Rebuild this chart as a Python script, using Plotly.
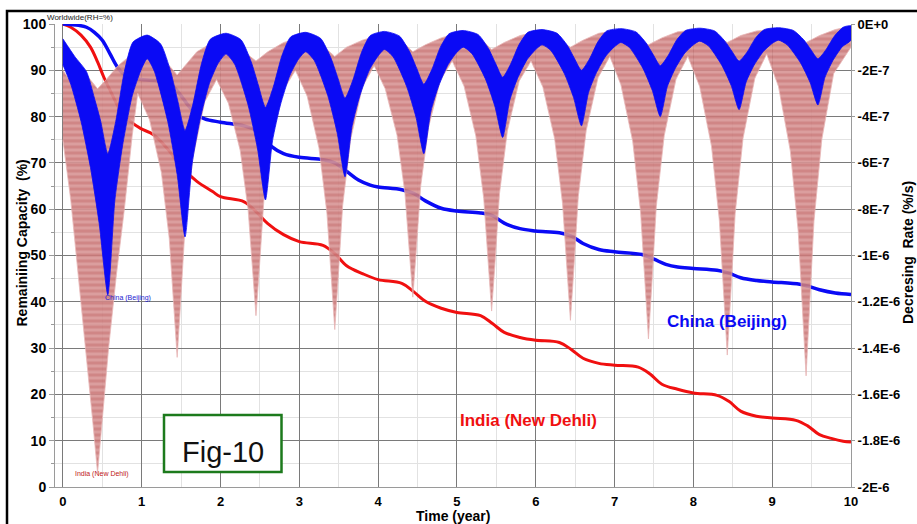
import plotly.graph_objects as go

# ---------------- data ----------------
x_ticks = list(range(0, 11))
cap_ticks = list(range(0, 101, 10))
rate_tickvals = [0, -2e-7, -4e-7, -6e-7, -8e-7, -1e-6, -1.2e-6, -1.4e-6, -1.6e-6, -1.8e-6, -2e-6]
rate_ticktext = ["0E+0", "-2E-7", "-4E-7", "-6E-7", "-8E-7", "-1E-6", "-1.2E-6", "-1.4E-6", "-1.6E-6", "-1.8E-6", "-2E-6"]

# remaining capacity (%) vs time (year)
china_t = [0, 0.2, 0.3, 0.4, 0.5, 0.6, 0.7, 0.8, 0.9, 1.0, 1.3, 1.4, 1.5, 1.6, 1.7, 1.8, 2.0, 2.3,
           2.45, 2.55, 2.65, 2.8, 3.0, 3.3, 3.45, 3.6, 3.75, 3.9, 4.0, 4.3, 4.45, 4.6, 4.8, 5.0, 5.3,
           5.45, 5.6, 5.8, 6.0, 6.3, 6.45, 6.6, 6.8, 7.0, 7.35, 7.5, 7.65, 7.8, 8.0, 8.3, 8.45, 8.6,
           8.8, 9.0, 9.35, 9.45, 9.6, 9.8, 10.0]
china_cap = [100, 99.7, 99.3, 98.2, 96.5, 93.5, 90.5, 88.8, 88.3, 88.0, 87.5, 86.5, 84.5, 82.2, 80.5, 79.5, 78.8, 78.0,
             77.0, 75.5, 73.5, 72.0, 71.2, 70.7, 70.0, 68.2, 66.3, 65.2, 64.8, 64.2, 63.4, 61.8, 60.2, 59.6, 59.2,
             58.6, 57.0, 55.8, 55.3, 54.9, 54.2, 52.6, 51.3, 50.8, 50.2, 49.2, 48.1, 47.5, 47.2, 46.8, 46.2, 45.2,
             44.6, 44.3, 43.8, 43.4, 42.6, 41.9, 41.6]

india_t = [0, 0.1, 0.23, 0.35, 0.44, 0.52, 0.61, 0.74, 0.86, 0.99, 1.15, 1.33, 1.5, 1.7, 1.9, 2.0, 2.3,
           2.45, 2.6, 2.8, 3.0, 3.3, 3.45, 3.6, 3.8, 4.0, 4.3, 4.45, 4.6, 4.8, 5.0, 5.3, 5.45, 5.6, 5.8,
           6.0, 6.3, 6.45, 6.6, 6.8, 7.0, 7.3, 7.45, 7.6, 7.8, 8.0, 8.3, 8.45, 8.6, 8.8, 9.0, 9.3, 9.45,
           9.6, 9.75, 9.9, 10.0]
india_cap = [100, 99.3, 97.6, 95, 91.8, 88.5, 85.3, 81, 78.9, 77.4, 76.1, 73, 69.2, 66, 63.8, 62.7, 61.6,
             59.5, 56.9, 54.5, 53, 52.2, 50.4, 47.8, 46.1, 44.8, 44, 42.2, 40.1, 38.6, 37.7, 37, 35.3, 33.4, 32.3,
             31.7, 31.2, 29.7, 27.8, 26.7, 26.3, 25.9, 24.4, 22.2, 21.1, 20.3, 19.8, 18.5, 16.4, 15.3, 14.9, 14.4, 13.2,
             11.3, 10.5, 9.9, 9.7]

# daily decreasing-rate envelopes, in units of 1e-8 %/s
RATE_UNIT = 1e-8

china_hi_t = [0.00, 0.15, 0.30, 0.40, 0.48, 0.57, 0.67, 0.78, 0.89, 1.07,
              1.24, 1.37, 1.46, 1.55, 1.65, 1.76, 1.87, 2.07,
              2.26, 2.39, 2.48, 2.57, 2.67, 2.78, 2.89, 3.08,
              3.27, 3.40, 3.49, 3.58, 3.68, 3.79, 3.90, 4.08,
              4.27, 4.40, 4.49, 4.58, 4.68, 4.79, 4.90, 5.08,
              5.27, 5.40, 5.49, 5.58, 5.68, 5.79, 5.90, 6.08,
              6.27, 6.40, 6.49, 6.58, 6.68, 6.79, 6.90, 7.08,
              7.27, 7.40, 7.49, 7.58, 7.68, 7.79, 7.90, 8.08,
              8.27, 8.40, 8.49, 8.58, 8.68, 8.79, 8.90, 9.08,
              9.27, 9.40, 9.49, 9.58, 9.68, 9.79, 9.90, 10.0]
china_hi = [-6.4, -14, -20.6, -32, -42, -56, -42.2, -20.6, -7.8, -4.8,
            -8.6, -20.8, -33.6, -46, -34.6, -17, -6.6, -4,
            -6.8, -16.4, -26.4, -36, -27.2, -13.6, -5.6, -3.6,
            -6.2, -14.6, -23.4, -32, -24.2, -12.2, -5, -3.2,
            -5.2, -12, -19.2, -26, -19.8, -10, -4.2, -2.8,
            -4.6, -10.6, -17, -23, -17.4, -8.8, -3.6, -2.4,
            -4, -9.2, -14.8, -20, -15.2, -7.6, -3, -2,
            -3.4, -8.2, -13.2, -18, -13.6, -6.8, -2.8, -1.8,
            -3, -7.4, -11.8, -16, -12.2, -6, -2.4, -1.6,
            -2.8, -6.8, -11, -15, -11.2, -5.2, -1.4, -0.8]

china_lo_t = [0.00, 0.10, 0.23, 0.35, 0.46, 0.57, 0.66, 0.76, 0.88, 0.99, 1.07,
              1.16, 1.33, 1.45, 1.55, 1.64, 1.74, 1.86, 1.97, 2.07,
              2.18, 2.35, 2.47, 2.57, 2.66, 2.76, 2.88, 2.99, 3.08,
              3.19, 3.36, 3.48, 3.58, 3.67, 3.77, 3.89, 4.00, 4.08,
              4.19, 4.36, 4.48, 4.58, 4.67, 4.77, 4.89, 5.00, 5.08,
              5.19, 5.36, 5.48, 5.58, 5.67, 5.77, 5.89, 6.00, 6.08,
              6.19, 6.36, 6.48, 6.58, 6.67, 6.77, 6.89, 7.00, 7.08,
              7.19, 7.36, 7.48, 7.58, 7.67, 7.77, 7.89, 8.00, 8.08,
              8.19, 8.36, 8.48, 8.58, 8.67, 8.77, 8.89, 9.00, 9.08,
              9.19, 9.36, 9.48, 9.58, 9.67, 9.77, 9.89, 10.0]
china_lo = [-17.6, -26, -42, -62, -86, -117, -76, -52, -31, -20, -15,
            -20.4, -42, -65, -92, -60.4, -41.4, -25.6, -17, -13,
            -17.4, -35, -54, -76, -50.4, -35, -22.2, -15.2, -12,
            -15.8, -30.8, -47, -66, -44, -30.8, -19.8, -13.8, -11,
            -14.2, -26.8, -40.2, -56, -37.6, -26.6, -17.4, -12.2, -10,
            -12.8, -23.6, -35.4, -49, -33, -23.4, -15.4, -11, -9,
            -11.4, -21.2, -31.8, -44, -29.6, -21, -13.8, -9.8, -8,
            -10.2, -19.2, -28.8, -40, -27, -19.2, -12.6, -9, -7.4,
            -9.4, -17.8, -26.6, -37, -25, -17.8, -11.8, -8.4, -7,
            -9, -16.8, -25.2, -35, -23, -15.8, -9.8, -7]

india_hi_t = [0.00, 0.08, 0.18, 0.30, 0.44, 0.55, 0.70, 0.85, 0.95, 1.05, 1.20, 1.35, 1.45, 1.55, 1.70, 1.85,
              2.00, 2.15, 2.30, 2.45, 2.60, 2.80, 3.00, 3.20, 3.35, 3.45, 3.60, 3.80, 4.00, 4.20, 4.35, 4.44,
              4.60, 4.80, 5.00, 5.20, 5.35, 5.44, 5.60, 5.80, 6.00, 6.20, 6.35, 6.44, 6.60, 6.80, 7.00, 7.20,
              7.33, 7.43, 7.60, 7.80, 8.00, 8.20, 8.33, 8.43, 8.60, 8.80, 9.00, 9.20, 9.33, 9.43, 9.60, 9.80, 10.0]
india_hi = [-20, -24, -18, -22, -28, -24, -18, -14, -11, -14, -12, -18, -22, -18, -12, -9,
            -7, -10, -12, -16, -12, -8, -6, -8, -11, -14, -10, -7, -5, -6, -9, -12,
            -9, -6, -4, -5, -8, -11, -8, -5, -3.4, -5, -8, -10, -7, -4, -3, -4,
            -7, -9, -6, -3.4, -2.6, -4, -6, -8, -5, -3, -2.4, -4, -6, -8, -5, -2.4, -1]

india_lo_t = [0.00, 0.10, 0.20, 0.30, 0.38, 0.44, 0.50, 0.58, 0.68, 0.78, 0.88, 0.95,
              1.10, 1.25, 1.35, 1.41, 1.45, 1.49, 1.55, 1.65, 1.80, 1.95,
              2.10, 2.25, 2.35, 2.41, 2.45, 2.49, 2.55, 2.65, 2.80, 2.95,
              3.10, 3.25, 3.35, 3.41, 3.45, 3.49, 3.55, 3.65, 3.80, 3.95,
              4.09, 4.24, 4.34, 4.40, 4.44, 4.48, 4.54, 4.64, 4.79, 4.94,
              5.09, 5.24, 5.34, 5.40, 5.44, 5.48, 5.54, 5.64, 5.79, 5.94,
              6.09, 6.24, 6.34, 6.40, 6.44, 6.48, 6.54, 6.64, 6.79, 6.94,
              7.08, 7.23, 7.33, 7.39, 7.43, 7.47, 7.53, 7.63, 7.78, 7.93,
              8.08, 8.23, 8.33, 8.39, 8.43, 8.47, 8.53, 8.63, 8.78, 8.93,
              9.08, 9.23, 9.33, 9.39, 9.43, 9.47, 9.53, 9.63, 9.78, 10.0]
india_lo = [-50, -76, -112, -144, -172, -194, -172, -140, -108, -80, -48, -30,
            -41.4, -64.2, -92.7, -123.4, -144, -122.4, -87.6, -57.6, -33.6, -24,
            -34.2, -54.6, -80, -107.6, -126, -107, -76.2, -49.6, -28.4, -20,
            -31.2, -53.6, -81.6, -111.8, -132, -111.4, -78.4, -50, -27.2, -18,
            -28, -48, -73, -100, -118, -99.6, -70, -44.6, -24.2, -16,
            -26.8, -48.4, -75.4, -104.6, -124, -104.6, -73.2, -46.2, -24.6, -16,
            -27.2, -49.6, -77.6, -107.8, -128, -107.4, -74.4, -46, -23.2, -14,
            -26.2, -50.6, -81.2, -114, -136, -114, -78.6, -48.2, -23.8, -14,
            -27, -52.8, -85, -119.8, -143, -119.6, -82, -49.4, -23.4, -13,
            -27, -54.8, -89.4, -127, -152, -126.4, -85.2, -49.8, -21.4, -10]


def band(t_hi, hi, t_lo, lo):
    """Closed outline (upper edge forward, lower edge back) in %/s."""
    xs = list(t_hi) + list(reversed(t_lo))
    ys = [v * RATE_UNIT for v in hi] + [v * RATE_UNIT for v in reversed(lo)]
    return xs, ys


FONT = "Liberation Sans, Arial, sans-serif"
BLUE = "#0a0af5"
RED = "#f01010"

# plot-area geometry (pixels)
W, H = 917, 524
ML, MR, MT, MB = 55, 66, 24, 37
PW, PH = W - ML - MR, H - MT - MB


def px(xp):
    return (xp - ML) / PW


def py(yp):
    return (H - MB - yp) / PH


fig = go.Figure()

# capacity curves (left axis)
fig.add_trace(go.Scatter(x=india_t, y=india_cap, mode="lines", line=dict(color=RED, width=3, shape="spline"),
                         showlegend=False, hoverinfo="skip"))
fig.add_trace(go.Scatter(x=china_t, y=china_cap, mode="lines", line=dict(color=BLUE, width=3.5, shape="spline"),
                         showlegend=False, hoverinfo="skip"))

# daily rate bands (right axis)
bx, by = band(india_hi_t, india_hi, india_lo_t, india_lo)
fig.add_trace(go.Scatter(x=bx, y=by, yaxis="y2", mode="lines", fill="toself",
                         line=dict(width=0.8, color="#e6b0b0"),
                         fillcolor="#cf8585",
                         fillpattern=dict(shape="-", bgcolor="#d89494", fgcolor="#bd5e5e", size=6, solidity=0.5),
                         opacity=0.9, showlegend=False, hoverinfo="skip"))
bx, by = band(china_hi_t, china_hi, china_lo_t, china_lo)
fig.add_trace(go.Scatter(x=bx, y=by, yaxis="y2", mode="lines", fill="toself",
                         line=dict(width=0.8, color=BLUE, shape="spline", smoothing=0.6),
                         fillcolor=BLUE,
                         showlegend=False, hoverinfo="skip"))

annotations = [
    dict(text="China (Beijing)", x=8.43, y=35.8, xref="x", yref="y", showarrow=False,
         font=dict(family=FONT, size=17, color=BLUE, weight="bold")),
    dict(text="India (New Dehli)", x=5.91, y=14.3, xref="x", yref="y", showarrow=False,
         font=dict(family=FONT, size=17, color=RED, weight="bold")),
    dict(text="China (Beijing)", x=0.82, y=40.9, xref="x", yref="y", showarrow=False,
         font=dict(family=FONT, size=7, color="#1a1ad0")),
    dict(text="India (New Dehli)", x=0.50, y=2.9, xref="x", yref="y", showarrow=False,
         font=dict(family=FONT, size=7, color="#c01818")),
    dict(text="Worldwide(RH=%)", x=px(80), y=py(17), xref="paper", yref="paper", xanchor="center",
         yanchor="middle", showarrow=False, font=dict(family=FONT, size=8, color="#222222")),
    dict(text="Fig-10", x=px(222.5), y=py(452), xref="paper", yref="paper", xanchor="center",
         yanchor="middle", showarrow=False, font=dict(family=FONT, size=29, color="#111111")),
    # axis titles
    dict(text="<b>Remainiing Capacity  (%)</b>", x=px(21.5), y=py(243), xref="paper", yref="paper",
         xanchor="center", yanchor="middle", textangle=-90, showarrow=False,
         font=dict(family=FONT, size=14, color="black")),
    dict(text="<b>Decresing  Rate (%/s)</b>", x=px(908), y=py(253), xref="paper", yref="paper",
         xanchor="center", yanchor="middle", textangle=-90, showarrow=False,
         font=dict(family=FONT, size=14, color="black")),
    dict(text="<b>Time (year)</b>", x=px(453), y=py(516), xref="paper", yref="paper",
         xanchor="center", yanchor="middle", showarrow=False,
         font=dict(family=FONT, size=14, color="black")),
]

shapes = [
    # outer frame
    dict(type="rect", xref="paper", yref="paper", x0=px(7), x1=px(960), y0=py(560), y1=py(11),
         line=dict(color="black", width=2.5), layer="above"),
    # figure tag box
    dict(type="rect", xref="paper", yref="paper", x0=px(164), x1=px(281.5), y0=py(472), y1=py(415),
         line=dict(color="#1c7a1c", width=2.5), fillcolor="white", layer="above"),
]

fig.update_layout(
    width=W, height=H,
    margin=dict(l=ML, r=MR, t=MT, b=MB, autoexpand=False),
    paper_bgcolor="white", plot_bgcolor="white",
    font=dict(family=FONT, color="black"),
    annotations=annotations, shapes=shapes,
    xaxis=dict(range=[-0.1, 10], tickvals=x_ticks, showgrid=True, gridcolor="#7a7a7a", gridwidth=1,
               minor=dict(dtick=0.5, tick0=0, showgrid=True, gridcolor="#e2e2e2", gridwidth=1),
               zeroline=False, showline=True, linecolor="#9a9a9a", linewidth=1, ticks="",
               ticklabelstandoff=2, automargin=False,
               tickfont=dict(size=13, weight="bold")),
    yaxis=dict(range=[0, 100], tickvals=cap_ticks, showgrid=True, gridcolor="#7a7a7a", gridwidth=1,
               minor=dict(dtick=5, tick0=0, showgrid=True, gridcolor="#e2e2e2", gridwidth=1,
                          ticks="outside", ticklen=3, tickcolor="#9a9a9a"),
               zeroline=False, showline=True, linecolor="#9a9a9a", linewidth=1,
               ticks="outside", ticklen=5, tickcolor="#9a9a9a", automargin=False,
               tickfont=dict(size=14, weight="bold")),
    yaxis2=dict(range=[-2e-6, 0], overlaying="y", side="right", tickvals=rate_tickvals, ticktext=rate_ticktext,
                showgrid=False, zeroline=False, showline=True, linecolor="#9a9a9a", linewidth=1,
                ticks="outside", ticklen=3, tickcolor="#9a9a9a", automargin=False,
                tickfont=dict(size=13, weight="bold")),
)

fig.write_html("out.html")
